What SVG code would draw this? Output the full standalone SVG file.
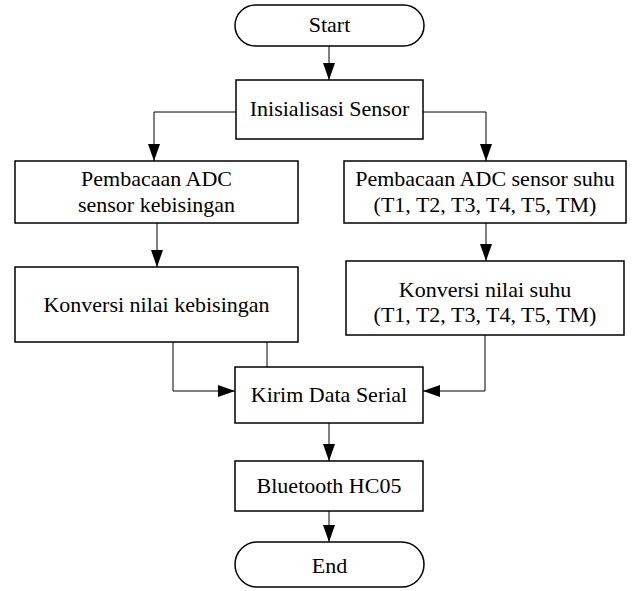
<svg xmlns="http://www.w3.org/2000/svg" width="634" height="591" viewBox="0 0 634 591">
<style>
.box{fill:#fff;stroke:#000;stroke-width:1.5}
.t{font-family:'Liberation Serif','Times New Roman','DejaVu Serif',serif;font-size:22px;fill:#000;text-anchor:middle}
.c{fill:none;stroke:#000;stroke-width:1}
</style>
<defs>
<marker id="ah" markerWidth="17" markerHeight="12" refX="17" refY="6" orient="auto" markerUnits="userSpaceOnUse">
<path d="M0,0 L17,6 L0,12 Z" fill="#000"/>
</marker>
</defs>
<rect width="634" height="591" fill="#fff"/>
<g id="connectors">
<line class="c" x1="329" y1="46" x2="329" y2="80" marker-end="url(#ah)"/>
<polyline class="c" points="236,112 154,112 154,161" marker-end="url(#ah)"/>
<polyline class="c" points="423,112 486,112 486,161" marker-end="url(#ah)"/>
<line class="c" x1="157" y1="223" x2="157" y2="267" marker-end="url(#ah)"/>
<line class="c" x1="486" y1="223" x2="486" y2="261" marker-end="url(#ah)"/>
<polyline class="c" points="173,342 173,391 235,391" marker-end="url(#ah)"/>
<line class="c" x1="267" y1="342" x2="267" y2="367"/>
<polyline class="c" points="485,335 485,391 423,391" marker-end="url(#ah)"/>
<line class="c" x1="329" y1="423" x2="329" y2="461" marker-end="url(#ah)"/>
<line class="c" x1="329" y1="511" x2="329" y2="542" marker-end="url(#ah)"/>
</g>
<g id="start">
<rect class="box" x="235" y="5" width="189" height="41" rx="20.5"/>
<text class="t" font-family="Liberation Serif, serif" x="329.5" y="32">Start</text>
</g>
<g id="init">
<rect class="box" x="236" y="80" width="187" height="59"/>
<text class="t" font-family="Liberation Serif, serif" x="329.5" y="116">Inisialisasi Sensor</text>
</g>
<g id="adc-noise">
<rect class="box" x="15" y="161" width="283" height="62"/>
<text class="t" font-family="Liberation Serif, serif" x="156.5" y="186">Pembacaan ADC</text>
<text class="t" font-family="Liberation Serif, serif" x="156.5" y="212">sensor kebisingan</text>
</g>
<g id="conv-noise">
<rect class="box" x="15" y="267" width="283" height="75"/>
<text class="t" font-family="Liberation Serif, serif" x="156.5" y="312">Konversi nilai kebisingan</text>
</g>
<g id="adc-temp">
<rect class="box" x="344" y="161" width="282" height="62"/>
<text class="t" font-family="Liberation Serif, serif" x="485" y="186">Pembacaan ADC sensor suhu</text>
<text class="t" font-family="Liberation Serif, serif" x="485" y="212">(T1, T2, T3, T4, T5, TM)</text>
</g>
<g id="conv-temp">
<rect class="box" x="346" y="261" width="278" height="74"/>
<text class="t" font-family="Liberation Serif, serif" x="485" y="297">Konversi nilai suhu</text>
<text class="t" font-family="Liberation Serif, serif" x="485" y="322">(T1, T2, T3, T4, T5, TM)</text>
</g>
<g id="send">
<rect class="box" x="235" y="367" width="188" height="56"/>
<text class="t" font-family="Liberation Serif, serif" x="329" y="402">Kirim Data Serial</text>
</g>
<g id="bt">
<rect class="box" x="235" y="461" width="188" height="50"/>
<text class="t" font-family="Liberation Serif, serif" x="329" y="493">Bluetooth HC05</text>
</g>
<g id="end">
<rect class="box" x="235" y="542" width="189" height="45" rx="22.5"/>
<text class="t" font-family="Liberation Serif, serif" x="329.5" y="573">End</text>
</g>
</svg>
